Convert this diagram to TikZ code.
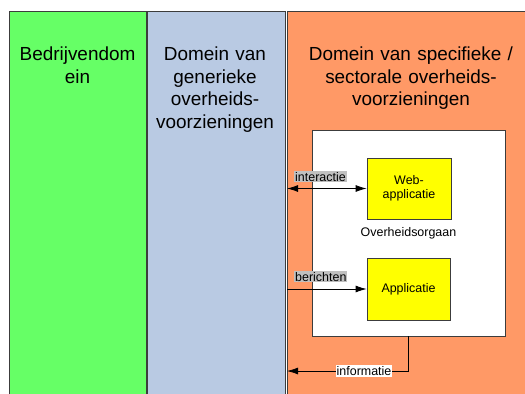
\documentclass[tikz,border=0pt]{standalone}
\usepackage{fontspec}
\setmainfont{Liberation Sans}
\usetikzlibrary{arrows.meta}
\definecolor{domgreen}{HTML}{66FF66}
\definecolor{domblue}{HTML}{B9CAE3}
\definecolor{domorange}{HTML}{FF9966}
\definecolor{appyellow}{HTML}{FFFF00}
\definecolor{lblgray}{HTML}{C0C0C0}
\definecolor{edgegray}{HTML}{3C3C3C}
\tikzset{
  column/.style = {draw=edgegray, line width=1bp},
  heading/.style = {anchor=north, inner sep=0pt, align=center, text width=135bp,
    font=\fontsize{19}{22.5}\selectfont},
  appbox/.style = {draw=edgegray, fill=appyellow, line width=0.8bp,
    align=center, font=\fontsize{12.5}{14}\selectfont},
  flow/.style = {line width=0.8bp, -{Latex[length=11bp,width=7bp]}},
  flowlabel/.style = {fill=lblgray, inner xsep=1bp, inner ysep=1bp,
    font=\fontsize{12.5}{14}\selectfont}
}
\begin{document}
\begin{tikzpicture}[x=1bp, y=-1bp]
    \useasboundingbox (0,0) rectangle (525,393);
    \clip (0,0) rectangle (525,393);
    % domain columns
    \draw [column, fill=domgreen] (9,11) rectangle (146,400);
    \draw [column, fill=domblue] (147,11) rectangle (285,400);
    \draw [column, fill=domorange] (287,11) rectangle (540,400);
    \node [heading] (bedrijf) at (77.5,47) {Bedrijvendom\\ein};
    \node [heading] (generiek) at (215,47) {Domein van\\generieke\\overheids-\\voorzieningen};
    \node [heading, text width=230bp] (sectoraal) at (411,47) {Domein van specifieke /\\sectorale overheids-\\voorzieningen};
    % government body with its applications
    \node [draw=edgegray, fill=white, line width=0.8bp, minimum width=193bp, minimum height=206bp,
      font=\fontsize{12.5}{14}\selectfont] (organ) at (408.5,233) {Overheidsorgaan};
    \node [appbox, minimum width=84bp, minimum height=61bp] (webapp) at (409,188.5) {Web-\\applicatie};
    \node [appbox, minimum width=83bp, minimum height=62bp] (app) at (408.5,289) {Applicatie};
    % flows from the left edge of the domain
    \coordinate (edge) at (287,0);
    \coordinate (infoend) at (287,371);
    \draw [flow, {Latex[length=11bp,width=7bp]}-{Latex[length=11bp,width=7bp]}] (edge |- webapp.west) -- (webapp.west);
    \node [flowlabel, anchor=south west] (interactie) at (294,182.5) {interactie};
    \draw [flow] (edge |- app.west) -- (app.west);
    \node [flowlabel, anchor=south west] (berichten) at (294,282.5) {berichten};
    \draw [flow] (organ.south) |- (infoend) node [pos=0.683, fill=white, inner xsep=1bp, inner ysep=1bp,
      font=\fontsize{12.5}{14}\selectfont] (informatie) {informatie};
\end{tikzpicture}
\end{document}
